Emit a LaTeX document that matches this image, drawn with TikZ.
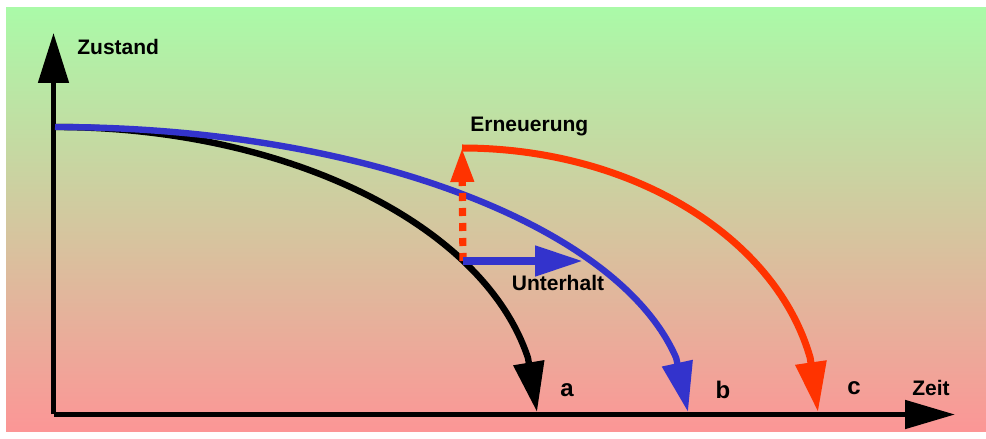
\documentclass[tikz,border=0pt]{standalone}
\usepackage{fontspec}
\setmainfont{Liberation Sans}
\usepackage{tikz}
\usepackage{xcolor}
\usetikzlibrary{arrows.meta}

\definecolor{bgtop}{RGB}{170,250,168}
\definecolor{bgbottom}{RGB}{252,150,150}
\definecolor{maintblue}{RGB}{51,51,204}
\definecolor{renewred}{RGB}{255,51,0}

\begin{document}
\begin{tikzpicture}[
    x=0.5pt, y=0.5pt,
    axis/.style={line width=2.5pt, -{Triangle[length=25pt, width=15pt]}},
    curve/.style={line width=3.2pt, -{Triangle[length=25pt, width=15pt]}},
    lbl/.style={font=\bfseries\fontsize{10.5}{12}\selectfont, inner sep=0pt},
    letter/.style={font=\bfseries\fontsize{12}{14}\selectfont, inner sep=0pt}
]

% ---- Frame and background ----
\useasboundingbox (0,0) rectangle (986,439);
\shade[top color=bgtop, bottom color=bgbottom] (6,7) rectangle (986,431);

% ---- Key points ----
\coordinate (orig)  at (53.5,24.5);
\coordinate (ytip)  at (53.5,406);
\coordinate (xtip)  at (955,24.5);
\coordinate (top)   at (55,312);
\coordinate (renew) at (462,291);
\coordinate (fork)  at (463,178);
\coordinate (maint) at (583,178);
\coordinate (tipa)  at (537,27);
\coordinate (tipb)  at (688,27);
\coordinate (tipc)  at (818,27);

% ---- Axes ----
\draw[axis] (orig) -- (ytip);
\draw[axis, -{Triangle[length=25pt, width=14pt]}] (orig) -- (xtip);
\node[lbl, anchor=west] (zustand) at (77,392) {Zustand};
\node[lbl] (zeit) at (931,51) {Zeit};

% ======== Ageing curves ========
\draw[curve] (top) arc[start angle=90, end angle=11.09, x radius=482, y radius=286] -- (tipa);
\draw[curve, maintblue] (top) arc[start angle=90, end angle=11.09, x radius=633, y radius=286] -- (tipb);
\draw[curve, renewred, line width=3.5pt] (renew) arc[start angle=90, end angle=11.98, x radius=356, y radius=265] -- (tipc);

% ======== Interventions ========
\draw[renewred, line width=3.6pt, dash pattern=on 4pt off 3.5pt,
      -{Triangle[length=17pt, width=11pt]}] (fork) -- (renew);
\draw[maintblue, line width=4pt, -{Triangle[length=24pt, width=14.5pt]}] (fork) -- (maint);

% ---- Labels ----
\node[lbl, anchor=west] (erneuerung) at (470,312) {Erneuerung};
\node[lbl] (unterhalt) at (558,156) {Unterhalt};
\node[letter] (la) at (567,49) {a};
\node[letter] (lb) at (723,49) {b};
\node[letter] (lc) at (854,51) {c};

\end{tikzpicture}
\end{document}
